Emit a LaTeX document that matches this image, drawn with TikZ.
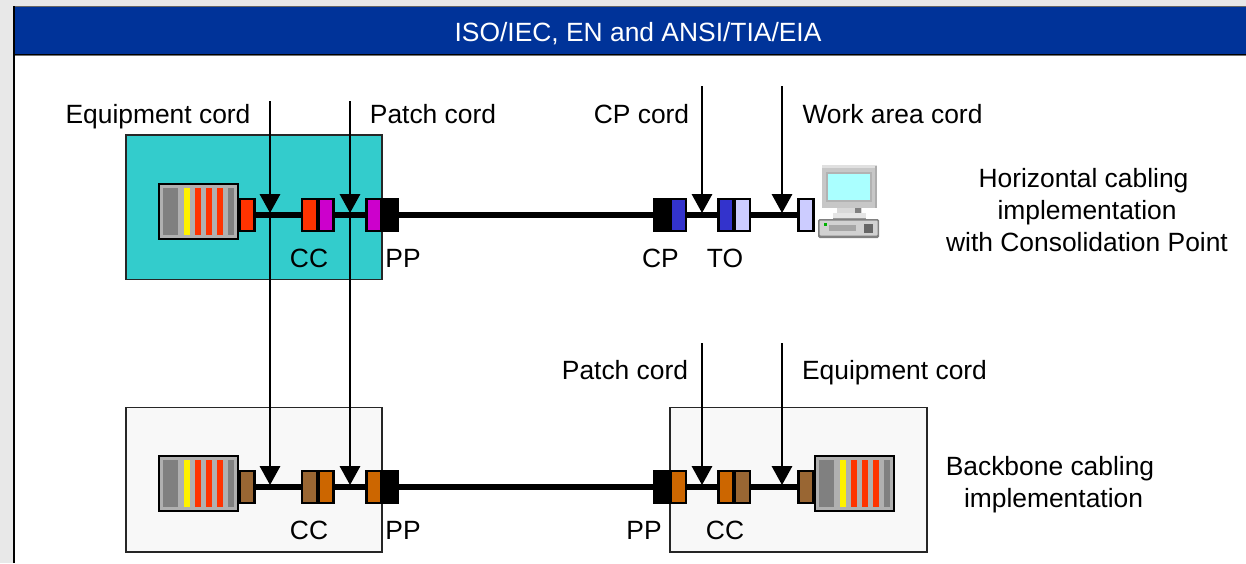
\documentclass[tikz,border=0pt]{standalone}
\usepackage{fontspec}
\setmainfont{Liberation Sans}
\usetikzlibrary{arrows.meta,positioning}
\definecolor{pagegrey}{HTML}{E8E8E8}
\definecolor{titleblue}{HTML}{003399}
\definecolor{teal1}{HTML}{33CCCC}
\definecolor{boxgrey}{HTML}{F8F8F8}
\definecolor{redc}{HTML}{FF3300}
\definecolor{magc}{HTML}{CC00CC}
\definecolor{bluec}{HTML}{3333CC}
\definecolor{lightc}{HTML}{CCCCFF}
\definecolor{brownc}{HTML}{996633}
\definecolor{orangec}{HTML}{CC6600}
\definecolor{rackgrey}{HTML}{B0B0B0}
\definecolor{bargrey}{HTML}{808080}
\definecolor{screenc}{HTML}{AAFFFF}
\tikzset{
  area/.style={draw=black!85,line width=1.7pt,minimum width=#1,inner sep=0pt,outer sep=0pt,minimum height=144.5pt},
  conn/.style={draw=black,fill=#1,line width=2.5pt,minimum width=15pt,minimum height=32pt,inner sep=0pt,outer sep=0pt},
  rackbox/.style={draw=black,fill=rackgrey,line width=2.6pt,minimum width=79pt,minimum height=55pt,inner sep=0pt,outer sep=0pt},
  bar/.style={fill=#1,draw=none,minimum height=47pt,inner sep=0pt,outer sep=0pt},
  cable/.style={line width=5.4pt,black},
  drop/.style={line width=1.7pt,black,-{Triangle[width=20.5pt,length=19pt]}},
  lbl/.style={anchor=base,font=\fontsize{26.4}{31}\selectfont,inner sep=0pt,outer sep=0pt},
}
\newcommand{\rackat}[3]{% name, x-left, y-center
  \node[rackbox,anchor=west] (#1) at (#2+0.5,#3) {};
  \node[bar=bargrey,minimum width=15pt,anchor=west] (#1g) at (#2+4,#3) {};
  \node[bar=yellow,minimum width=6pt,anchor=west] (#1y) at (#2+25,#3) {};
  \node[bar=redc,minimum width=6pt,anchor=west] (#1a) at (#2+36,#3) {};
  \node[bar=redc,minimum width=6pt,anchor=west] (#1b) at (#2+47,#3) {};
  \node[bar=redc,minimum width=6pt,anchor=west] (#1c) at (#2+58,#3) {};
  \node[bar=bargrey,minimum width=6pt,anchor=west] (#1h) at (#2+69,#3) {};
}
\begin{document}
\begin{tikzpicture}[x=1pt,y=-1pt]
\useasboundingbox (0,0) rectangle (1246,563);
\fill[pagegrey] (0,0) rectangle (1246,563);
% panel
\fill[white] (14,7) rectangle (1246,563);
\fill[titleblue] (14,7) rectangle (1246,55);
\draw[black!60,line width=1pt] (14,6.5) -- (1246,6.5);
\draw[black,line width=1pt] (14,54.5) -- (1246,54.5);
\draw[black!55,line width=1pt] (14,55.5) -- (1246,55.5);
\draw[black,line width=2pt] (14,6) -- (14,563);
\node[lbl,text=white] (title) at (638,41) {ISO/IEC, EN and ANSI/TIA/EIA};
% areas
\node[area=256pt,fill=teal1,anchor=north west] (hbox) at (126,135) {};
\node[area=256pt,fill=boxgrey,anchor=north west] (blbox) at (126,407.5) {};
\node[area=257pt,fill=boxgrey,anchor=north west] (brbox) at (670,407.5) {};
% --- horizontal row
\rackat{hr}{158.5}{211.5}
\node[conn=redc,anchor=west] (hc1) at (239.5,215) {};
\node[conn=redc,anchor=west] (hcc1) at (302,215) {};
\node[conn=magc,anchor=west] (hcc2) at (318.5,215) {};
\node[conn=magc,anchor=west] (hpp1) at (366.5,215) {};
\node[conn=black,anchor=west] (hpp2) at (383,215) {};
\node[conn=black,anchor=west] (hcp1) at (654,215) {};
\node[conn=bluec,anchor=west] (hcp2) at (671,215) {};
\node[conn=bluec,anchor=west] (hto1) at (718.5,215) {};
\node[conn=lightc,anchor=west] (hto2) at (735,215) {};
\node[conn=lightc,anchor=west] (hw) at (798.5,215) {};
\draw[cable] (hc1.east) -- (hcc1.west);
\draw[cable] (hcc2.east) -- (hpp1.west);
\draw[cable] (hpp2.east) -- (hcp1.west);
\draw[cable] (hcp2.east) -- (hto1.west);
\draw[cable] (hto2.east) -- (hw.west);
% --- backbone row
\rackat{bl}{158.5}{483.5}
\node[conn=brownc,anchor=west] (bc1) at (239.5,487) {};
\node[conn=brownc,anchor=west] (bcc1) at (302,487) {};
\node[conn=orangec,anchor=west] (bcc2) at (318.5,487) {};
\node[conn=orangec,anchor=west] (bpp1) at (366.5,487) {};
\node[conn=black,anchor=west] (bpp2) at (383,487) {};
\node[conn=black,anchor=west] (bpp3) at (654,487) {};
\node[conn=orangec,anchor=west] (bpp4) at (671,487) {};
\node[conn=orangec,anchor=west] (bcc3) at (718.5,487) {};
\node[conn=brownc,anchor=west] (bcc4) at (735,487) {};
\node[conn=brownc,anchor=west] (bc2) at (798.5,487) {};
\rackat{br}{814.5}{483.5}
\draw[cable] (bc1.east) -- (bcc1.west);
\draw[cable] (bcc2.east) -- (bpp1.west);
\draw[cable] (bpp2.east) -- (bpp3.west);
\draw[cable] (bpp4.east) -- (bcc3.west);
\draw[cable] (bcc4.east) -- (bc2.west);
% --- cord pointers
\coordinate (t1) at (270,101); \coordinate (m1) at (270,213); \coordinate (e1) at (270,485);
\coordinate (t2) at (350,101); \coordinate (m2) at (350,213); \coordinate (e2) at (350,485);
\coordinate (t3) at (702,86);  \coordinate (e3) at (702,213);
\coordinate (t4) at (782,86);  \coordinate (e4) at (782,213);
\coordinate (t5) at (702,343); \coordinate (e5) at (702,485);
\coordinate (t6) at (782,343); \coordinate (e6) at (782,485);
\draw[drop] (m1) -- (e1);
\draw[drop] (m2) -- (e2);
\draw[drop] (t1) -- (m1);
\draw[drop] (t2) -- (m2);
\draw[drop] (t3) -- (e3);
\draw[drop] (t4) -- (e4);
\draw[drop] (t5) -- (e5);
\draw[drop] (t6) -- (e6);
% --- computer
\fill[black!22] (822,165) rectangle (877,208);
\fill[black!12] (822,165) rectangle (877,168);
\fill[black!32] (875,166) rectangle (877,208);
\fill[black!30] (826,172) rectangle (872,202);
\fill[screenc] (828,174) rectangle (870,200);
\fill[black!15] (837,208) rectangle (862,213);
\fill[black!50] (855,208) rectangle (861,213);
\fill[black!10] (833,213) rectangle (866,219);
\fill[black!40] (833,217.5) rectangle (866,219);
\fill[black!50,rounded corners=1.5pt] (818,219) rectangle (879,238);
\fill[black!18,rounded corners=1pt] (819.5,220.5) rectangle (877.5,235.5);
\fill[green!70!black] (824,223) rectangle (827,226);
\fill[black!35] (829,225) rectangle (856,231);
\fill[black!60] (864,224) rectangle (873,233);
% --- labels
\node[lbl] (l1) at (158,123) {Equipment cord};
\node[lbl] (l2) at (433,123) {Patch cord};
\node[lbl] (l3) at (641.5,123) {CP cord};
\node[lbl] (l4) at (892.5,123) {Work area cord};
\node[lbl] (l5) at (625,379) {Patch cord};
\node[lbl] (l6) at (894.5,379) {Equipment cord};
\node[lbl] (l7) at (309,267) {CC};
\node[lbl] (l8) at (403,267) {PP};
\node[lbl] (l9) at (660.5,267) {CP};
\node[lbl] (l10) at (725,267) {TO};
\node[lbl] (l11) at (309,539) {CC};
\node[lbl] (l12) at (403,539) {PP};
\node[lbl] (l13) at (644,539) {PP};
\node[lbl] (l14) at (725,539) {CC};
\node[lbl] (l15) at (1083.5,187) {Horizontal cabling};
\node[lbl] (l16) at (1087,219) {implementation};
\node[lbl] (l17) at (1087,251) {with Consolidation Point};
\node[lbl] (l18) at (1050,475) {Backbone cabling};
\node[lbl] (l19) at (1053.5,507) {implementation};
\end{tikzpicture}
\end{document}
